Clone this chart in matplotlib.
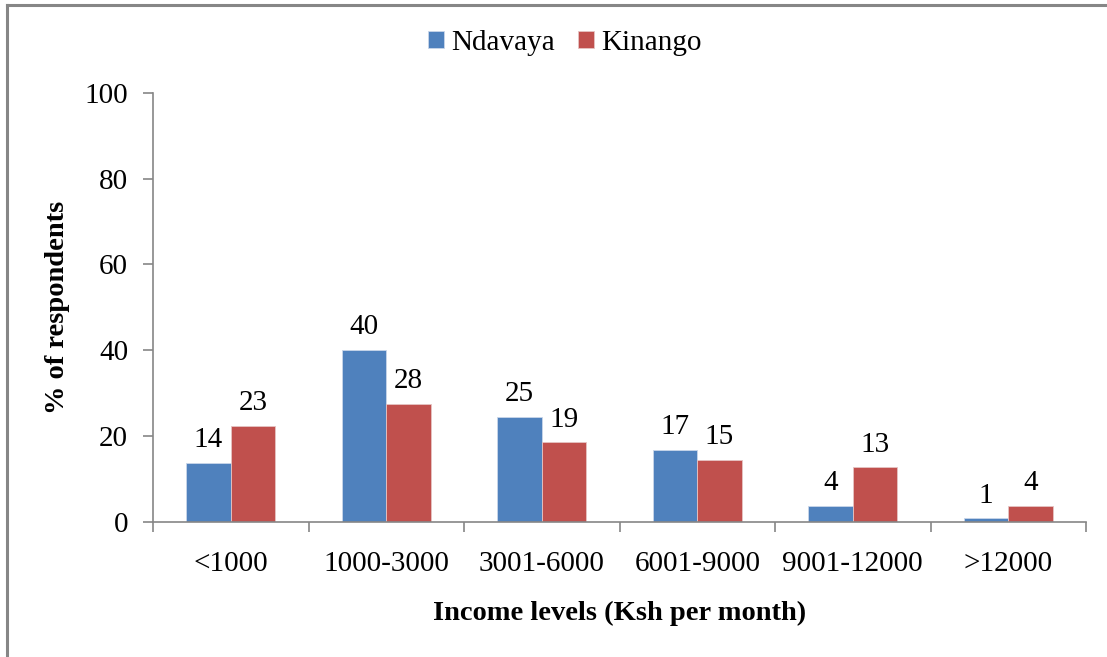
import matplotlib
matplotlib.use("Agg")
import matplotlib.pyplot as plt
import numpy as np
from matplotlib.lines import Line2D

categories = ["<1000", "1000-3000", "3001-6000", "6001-9000", "9001-12000", ">12000"]
ndavaya = [13.7, 40.1, 24.5, 16.7, 3.7, 0.8]
kinango = [22.4, 27.5, 18.5, 14.5, 12.7, 3.7]
ndavaya_labels = ["14", "40", "25", "17", "4", "1"]
kinango_labels = ["23", "28", "19", "15", "13", "4"]
series_names = ["Ndavaya", "Kinango"]
yticks = [0, 20, 40, 60, 80, 100]

plt.rcParams['font.family'] = ['Liberation Serif', 'DejaVu Serif']

fig = plt.figure(figsize=(11.07, 6.57), dpi=100)
ax = fig.add_axes([153/1107, 1-521.7/657, (1086-153)/1107, (521.7-93)/657])

x = np.arange(len(categories))
w = 1/3.5
b1 = ax.bar(x - w/2, ndavaya, w, color="#4F81BD", edgecolor="#c9d6ea", linewidth=0.6, label=series_names[0])
b2 = ax.bar(x + w/2, kinango, w, color="#C0504D", edgecolor="#e6c4c3", linewidth=0.6, label=series_names[1])

for bars, labs in ((b1, ndavaya_labels), (b2, kinango_labels)):
    for r, lab in zip(bars, labs):
        ax.annotate(lab, (r.get_x() + r.get_width()/2, r.get_height()),
                    xytext=(0, 7), textcoords="offset points",
                    ha="center", va="bottom", fontsize=21, color="black")

ax.set_xlim(-0.5, len(categories) - 0.5)
ax.set_ylim(0, 100)
ax.set_yticks(yticks)
ax.set_yticklabels([str(v) for v in yticks])
ax.set_xticks(x)
ax.set_xticklabels(categories)
ax.set_xticks(np.arange(len(categories) + 1) - 0.5, minor=True)

grey = "#868686"
for s in ("top", "right"):
    ax.spines[s].set_visible(False)
for s in ("left", "bottom"):
    ax.spines[s].set_color(grey)
    ax.spines[s].set_linewidth(1.2)

ax.tick_params(axis="y", direction="out", length=7, width=1.2, color=grey, labelsize=21, pad=11)
ax.tick_params(axis="x", which="major", length=0, labelsize=21, pad=21)
ax.tick_params(axis="x", which="minor", direction="out", length=7, width=1.2, color=grey)

ax.set_xlabel("Income levels (Ksh per month)", fontsize=20.5, fontweight="bold", labelpad=17)
ax.set_ylabel("% of respondents", fontsize=20.5, fontweight="bold", labelpad=10)

fig.legend(handles=[b1, b2], labels=series_names, loc="center", bbox_to_anchor=(565/1107, 1-43/657),
           ncol=2, frameon=False, fontsize=21, handlelength=0.55, handleheight=0.55,
           handletextpad=0.25, columnspacing=0.8)

fig.add_artist(Line2D([6.5/1107, 6.5/1107], [0, 1-4.5/657], color=grey, linewidth=2.2, transform=fig.transFigure))
fig.add_artist(Line2D([6.5/1107, 1], [1-4.5/657, 1-4.5/657], color=grey, linewidth=2.2, transform=fig.transFigure))

fig.savefig("out.png", dpi=100)
